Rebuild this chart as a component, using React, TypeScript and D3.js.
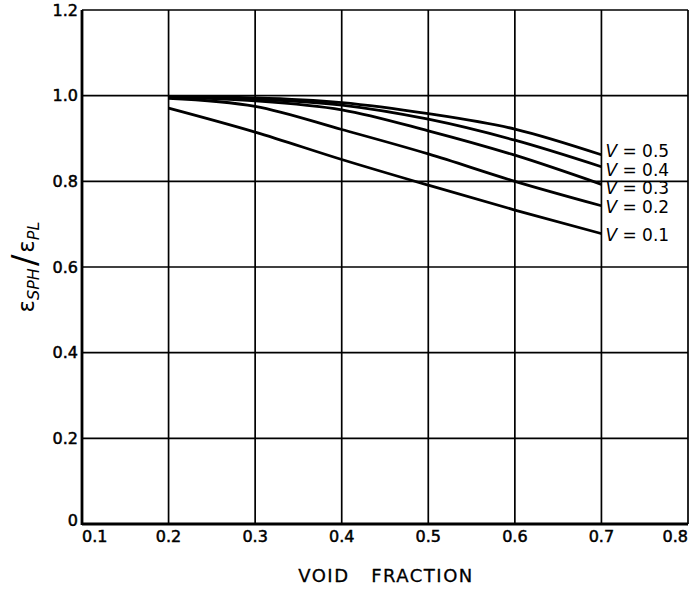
import { useEffect, useRef } from "react";
import * as d3 from "d3";

// void fraction samples where the curves were read
const voidFraction = [0.2, 0.3, 0.4, 0.5, 0.6, 0.7];

// eps_SPH / eps_PL for each V
const seriesV05 = [0.998, 0.995, 0.984, 0.958, 0.922, 0.862];
const seriesV04 = [0.997, 0.992, 0.978, 0.945, 0.896, 0.834];
const seriesV03 = [0.996, 0.988, 0.967, 0.918, 0.861, 0.793];
const seriesV02 = [0.994, 0.975, 0.921, 0.864, 0.8, 0.743];
const seriesV01 = [0.971, 0.915, 0.851, 0.791, 0.733, 0.678];

const seriesLabels = ["0.5", "0.4", "0.3", "0.2", "0.1"];
const seriesValues = [seriesV05, seriesV04, seriesV03, seriesV02, seriesV01];
// label offsets (px) from the curve end, as lettered on the original
const labelNudge = [-4, 3, 4, 1, 1];

const xTicks = [0.1, 0.2, 0.3, 0.4, 0.5, 0.6, 0.7, 0.8];
const yTicks = [0, 0.2, 0.4, 0.6, 0.8, 1.0, 1.2];

const W = 697;
const H = 589;
const FONT = "'DejaVu Sans', Verdana, sans-serif";

export default function App() {
  const svgRef = useRef<SVGSVGElement>(null);

  useEffect(() => {
    document.body.style.margin = "0";
    if (!svgRef.current) return;
    const svg = d3.select(svgRef.current);
    svg.selectAll("*").remove();

    const margin = { top: 10, right: 9, bottom: 65, left: 82 };
    const x = d3.scaleLinear().domain([0.1, 0.8]).range([margin.left, W - margin.right]);
    const y = d3.scaleLinear().domain([0, 1.2]).range([H - margin.bottom, margin.top]);

    const g = svg.append("g");

    // grid
    xTicks.slice(1).forEach((t) => {
      g.append("line")
        .attr("x1", x(t)).attr("x2", x(t))
        .attr("y1", y(0)).attr("y2", y(1.2))
        .attr("stroke", "#000").attr("stroke-width", 1.7);
    });
    yTicks.slice(1).forEach((t) => {
      g.append("line")
        .attr("x1", x(0.1)).attr("x2", x(0.8))
        .attr("y1", y(t)).attr("y2", y(t))
        .attr("stroke", "#000").attr("stroke-width", 1.7);
    });

    // axes (heavier)
    g.append("line")
      .attr("x1", x(0.1)).attr("x2", x(0.1))
      .attr("y1", y(0) + 1).attr("y2", y(1.2))
      .attr("stroke", "#000").attr("stroke-width", 2.8);
    g.append("line")
      .attr("x1", x(0.1)).attr("x2", x(0.8))
      .attr("y1", y(0)).attr("y2", y(0))
      .attr("stroke", "#000").attr("stroke-width", 2.8);

    // tick labels
    yTicks.forEach((t) => {
      g.append("text")
        .attr("x", x(0.1) - 4)
        .attr("y", y(t) + (t === 0 ? -4 : 0))
        .attr("dy", "0.36em")
        .attr("text-anchor", "end")
        .attr("font-family", FONT)
        .attr("font-size", 16)
        .attr("fill", "#000")
        .attr("stroke", "#000")
        .attr("stroke-width", 0.5)
        .text(t === 0 ? "0" : t.toFixed(1));
    });
    xTicks.forEach((t, i) => {
      const anchor = i === 0 ? "start" : i === xTicks.length - 1 ? "end" : "middle";
      g.append("text")
        .attr("x", x(t))
        .attr("y", y(0) + 12)
        .attr("dy", "0.36em")
        .attr("text-anchor", anchor)
        .attr("font-family", FONT)
        .attr("font-size", 16)
        .attr("fill", "#000")
        .attr("stroke", "#000")
        .attr("stroke-width", 0.5)
        .text(t.toFixed(1));
    });

    // curves
    const line = d3
      .line<number>()
      .x((_, i) => x(voidFraction[i]))
      .y((d) => y(d))
      .curve(d3.curveMonotoneX);

    seriesValues.forEach((vals, k) => {
      g.append("path")
        .datum(vals)
        .attr("fill", "none")
        .attr("stroke", "#000")
        .attr("stroke-width", 2.8)
        .attr("d", line);

      const last = vals[vals.length - 1];
      const t = g.append("text")
        .attr("x", x(0.7) + 4)
        .attr("y", y(last) + labelNudge[k])
        .attr("dy", "0.36em")
        .attr("font-family", FONT)
        .attr("font-size", 17)
        .attr("fill", "#000");
      t.append("tspan").attr("font-style", "italic").text("V");
      t.append("tspan").text(" = " + seriesLabels[k]);
    });

    // x axis title
    svg.append("text")
      .attr("x", 386)
      .attr("y", 576)
      .attr("dy", "0.36em")
      .attr("text-anchor", "middle")
      .attr("font-family", FONT)
      .attr("font-size", 18)
      .attr("letter-spacing", 1.5)
      .attr("fill", "#000")
      .attr("stroke", "#000")
      .attr("stroke-width", 0.3)
      .attr("xml:space", "preserve")
      .text("VOID   FRACTION");

    // y axis title
    const yt = svg.append("text")
      .attr("transform", "translate(34,267) rotate(-90)")
      .attr("text-anchor", "middle")
      .attr("font-family", FONT)
      .attr("fill", "#000");
    yt.append("tspan").attr("font-size", 23).text("\u03b5");
    yt.append("tspan").attr("font-size", 16).attr("font-style", "italic").attr("dy", 5).text("SPH");
    yt.append("tspan").attr("font-size", 34).attr("dy", -3).attr("dx", 2).text("/");
    yt.append("tspan").attr("font-size", 23).attr("dy", -2).attr("dx", 2).text("\u03b5");
    yt.append("tspan").attr("font-size", 16).attr("font-style", "italic").attr("dy", 5).text("PL");
  }, []);

  return <svg ref={svgRef} width={W} height={H} style={{ display: "block", background: "#fff" }} />;
}
